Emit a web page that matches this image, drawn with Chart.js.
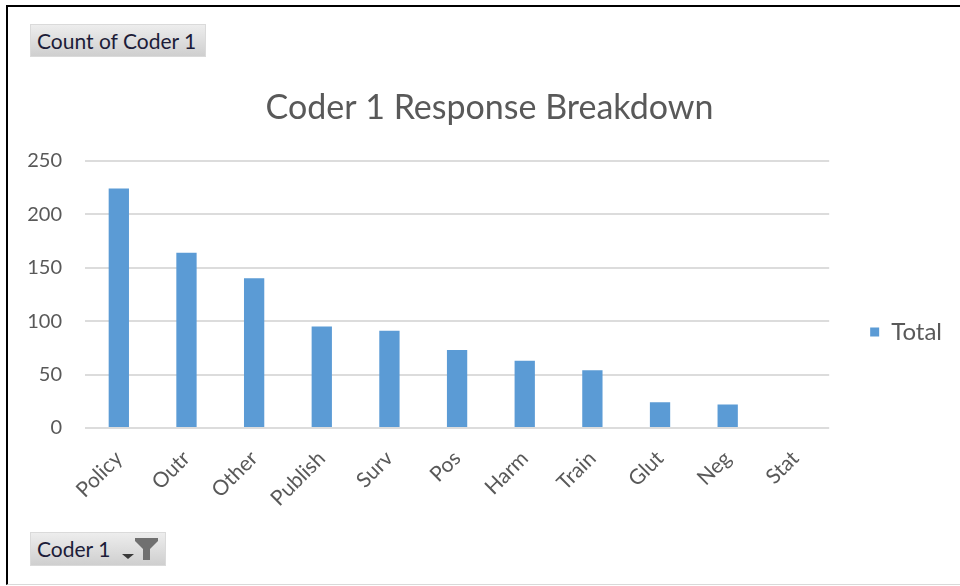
<!DOCTYPE html>
<html><head><meta charset="utf-8">
<script src="https://cdn.jsdelivr.net/npm/chart.js@4.4.1/dist/chart.umd.min.js"></script>
<style>
html,body{margin:0;padding:0;background:#fff;width:960px;height:586px;overflow:hidden;}
#frame{position:absolute;left:6px;top:5px;width:954px;height:580px;border-left:2px solid #000;border-top:2px solid #000;border-bottom:1px solid #d9d9d9;box-sizing:border-box;}
#c{position:absolute;left:0;top:0;}
.btn{position:absolute;background:linear-gradient(#ededed,#cfcfcf);border:1px solid #dadada;font-family:Lato,sans-serif;color:#1c1c38;font-size:21px;line-height:31px;padding-left:6px;box-sizing:border-box;white-space:nowrap;}
.btn svg{position:absolute;}
</style></head><body>
<div id="frame"></div>
<canvas id="c" width="960" height="586"></canvas>
<div class="btn" style="left:30px;top:24px;width:176px;height:33px;">Count of Coder 1</div>
<div class="btn" style="left:30px;top:532px;width:136px;height:34px;">Coder 1
<svg style="left:90px;top:5px" width="42" height="24" viewBox="0 0 42 24"><polygon points="1,16 13,16 7,21" fill="#3a3a3a"/><polygon points="14,0 37,0 37,3 29,11 29,22 22,22 22,11 14,3" fill="#707070"/></svg></div>
<script>
const categories = ['Policy','Outr','Other','Publish','Surv','Pos','Harm','Train','Glut','Neg','Stat'];
const totals = [224,164,140,95,91,73,63,54,24,22,0];
const seriesName = 'Total';
const chartTitle = 'Coder 1 Response Breakdown';
const yMin = 0, yMax = 250, yStep = 50;

const FONT = 'Lato, sans-serif';
const TXT = '#595959';
new Chart(document.getElementById('c'), {
  type: 'bar',
  data: {
    labels: categories,
    datasets: [{
      label: seriesName,
      data: totals,
      backgroundColor: '#5B9BD5',
      borderWidth: 0,
      categoryPercentage: 1,
      barPercentage: 0.3
    }]
  },
  options: {
    responsive: false,
    animation: false,
    devicePixelRatio: 1,
    layout: { padding: { left: 27, right: 8, top: 84, bottom: 6 } },
    plugins: {
      title: {
        display: true, text: chartTitle, color: TXT,
        font: { family: FONT, size: 34, weight: 'normal' },
        padding: { top: 4, bottom: 32 }
      },
      legend: {
        position: 'right',
        labels: { color: TXT, font: { family: FONT, size: 24 }, boxWidth: 9, boxHeight: 9, padding: 41 }
      },
      tooltip: { enabled: false }
    },
    scales: {
      x: {
        grid: { display: false, drawTicks: false },
        border: { display: false },
        ticks: { color: TXT, font: { family: FONT, size: 21 }, minRotation: 45, maxRotation: 45, padding: 18, autoSkip: false },
        afterFit: (scale) => { scale.height = 152; scale.paddingLeft = 0; scale.paddingRight = 0; }
      },
      y: {
        min: yMin, max: yMax,
        grid: { color: '#dcdcdc', lineWidth: 2, drawTicks: false },
        border: { display: false },
        ticks: { stepSize: yStep, color: TXT, font: { family: FONT, size: 20 }, padding: 23 },
        afterFit: (scale) => { scale.width = 58; }
      }
    }
  }
});
</script>
</body></html>
